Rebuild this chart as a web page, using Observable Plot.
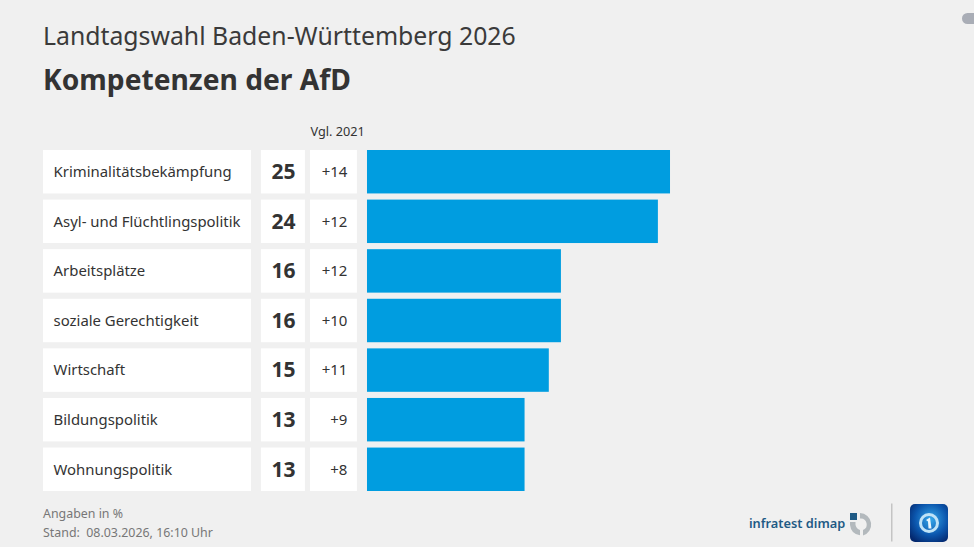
<!DOCTYPE html>
<html lang="de">
<head>
<meta charset="utf-8">
<script src="https://cdn.jsdelivr.net/npm/d3@7"></script>
<script src="https://cdn.jsdelivr.net/npm/@observablehq/plot@0.6"></script>
<style>
html,body{margin:0;padding:0;background:#f0f0f0;width:974px;height:547px;overflow:hidden;font-family:"Noto Sans",sans-serif;color:#333}
#head{position:relative;height:115px}
#sup{position:absolute;left:43px;top:17px;font-size:24.8px;line-height:36px;white-space:nowrap;color:#3a3a3a}
#ttl{position:absolute;left:43px;top:59px;font-size:28.2px;line-height:40px;font-weight:700;white-space:nowrap;color:#333}
#chart svg{display:block}
#foot{position:relative;height:47px}
.note{position:absolute;left:43px;font-size:12.4px;line-height:18px;color:#777;white-space:pre}
#inf{position:absolute;left:749px;top:13px;font-size:12.8px;line-height:20px;font-weight:600;color:#1f5a85;white-space:nowrap}
#logos{position:absolute;left:0;top:0}
#dot{position:absolute;left:962px;top:13px;width:12px;height:11px;border-radius:6px 0 0 6px;background:#a9adb6}
</style>
</head>
<body>
<div id="head">
  <div id="sup">Landtagswahl Baden-Württemberg 2026</div>
  <div id="ttl">Kompetenzen der AfD</div>
  <div id="dot"></div>
</div>
<div id="chart"></div>
<div id="foot">
  <div class="note" style="top:5px">Angaben in %</div>
  <div class="note" style="top:24px">Stand:  08.03.2026, 16:10 Uhr</div>
  <div id="inf">infratest dimap</div>
  <svg id="logos" width="974" height="47" viewBox="0 0 974 47">
    <rect x="850" y="13" width="7" height="7" fill="#1f5a85"/>
    <path d="M860 13 A11.5 11.5 0 0 1 863 35.5 L863 30 A6 6 0 0 0 860 18.5 Z" fill="#b3b9bd"/>
    <path d="M850 22 L855.5 22 L855.5 25 Q856.5 29 860 30 L860 35.3 Q851 34 850 25 Z" fill="#b3b9bd"/>
    <rect x="891" y="3.5" width="1.5" height="38" fill="#c4c4c4"/>
    <defs><radialGradient id="g" cx="0.55" cy="0.4" r="0.7"><stop offset="0" stop-color="#35a8ea"/><stop offset="0.6" stop-color="#0b56ad"/><stop offset="1" stop-color="#04286e"/></radialGradient></defs>
    <rect x="910" y="4" width="38" height="38" rx="5" fill="url(#g)"/>
    <circle cx="929" cy="23" r="8.5" fill="none" stroke="#bfe3f7" stroke-width="3"/>
    <path d="M926 20 L930 17.5 L931.5 28.5 L928.5 28.5 L928 21.5 Z" fill="#e8f5fc"/>
  </svg>
</div>
<script>
const categories = ["Kriminalitätsbekämpfung","Asyl- und Flüchtlingspolitik","Arbeitsplätze","soziale Gerechtigkeit","Wirtschaft","Bildungspolitik","Wohnungspolitik"];
const values = [25,24,16,16,15,13,13];
const changes = ["+14","+12","+12","+10","+11","+9","+8"];
const rows = categories.map((category,i)=>({category,value:values[i],change:changes[i]}));
const font = '"Noto Sans",sans-serif';
const ink = "#333";
const col = {label:[-26.73,-9.57], value:[-8.75,-5.12], change:[-4.70,-0.83]};
const box = ([a,b]) => Plot.barX(rows,{x1:()=>a,x2:()=>b,y:"category",fill:"white"});
const chart = Plot.plot({
  width:974,height:385,
  marginLeft:43,marginRight:0,marginTop:35,marginBottom:9,
  style:{background:"transparent",fontFamily:font,overflow:"visible"},
  x:{axis:null,domain:[-26.73,50.08]},
  y:{axis:null,domain:categories,paddingInner:0.124,paddingOuter:0,round:false},
  marks:[
    box(col.label),box(col.value),box(col.change),
    Plot.barX(rows,{x1:()=>0,x2:"value",y:"category",fill:"#009de0"}),
    Plot.text(rows,{x:()=>-25.9,y:"category",text:"category",textAnchor:"start",fontSize:14.9,fill:ink,fontFamily:font}),
    Plot.text(rows,{x:()=>-6.93,y:"category",text:d=>String(d.value),textAnchor:"middle",fontSize:21,fontWeight:700,fill:ink,fontFamily:font}),
    Plot.text(rows,{x:()=>-0.83,dx:-10,y:"category",text:"change",textAnchor:"end",fontSize:15,fill:ink,fontFamily:font}),
    Plot.text(["Vgl. 2021"],{x:()=>-4.70,y:()=>categories[0],dy:-40,text:d=>d,textAnchor:"start",fontSize:12.7,fill:ink,fontFamily:font})
  ]
});
document.getElementById("chart").append(chart);
</script>
</body>
</html>
